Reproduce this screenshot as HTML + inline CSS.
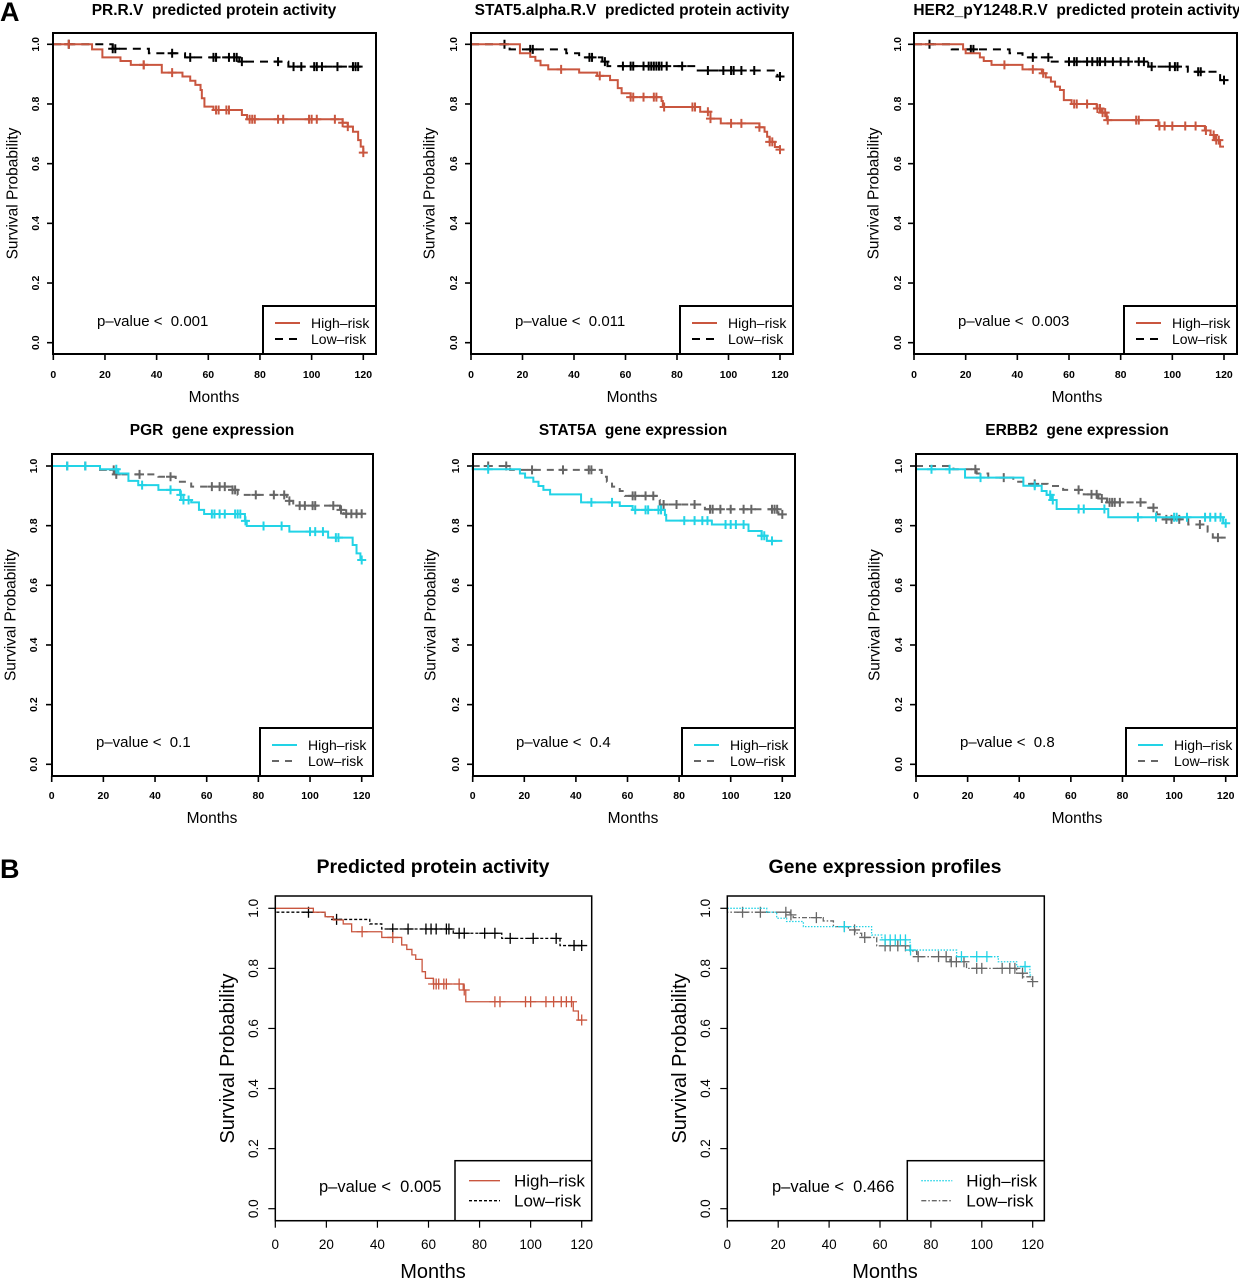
<!DOCTYPE html>
<html><head><meta charset="utf-8">
<style>
html,body{margin:0;padding:0;background:#fff;}
svg{display:block;font-family:"Liberation Sans",Arial,sans-serif;}
svg text{white-space:pre;}
</style></head>
<body>
<svg id="fig" width="1239" height="1280" viewBox="0 0 1239 1280" xmlns="http://www.w3.org/2000/svg">
<text x="0" y="21" font-size="27" font-weight="bold">A</text>
<text x="0" y="878" font-size="27" font-weight="bold">B</text>
</svg>
<script>
// ---- data (months / survival probability) ----
const xTicks = [0,20,40,60,80,100,120];
const yTicks = [0,0.2,0.4,0.6,0.8,1.0];
const yTickLabels = ["0.0","0.2","0.4","0.6","0.8","1.0"];

const prHiT=[15,19,26,30,42,50,53,55,57,57.5,58.5,62,73,75,112,114,116,118,119,120];
const prHiS=[0.983,0.956,0.944,0.931,0.905,0.892,0.878,0.864,0.847,0.819,0.791,0.78,0.763,0.749,0.737,0.724,0.707,0.679,0.657,0.637];
const prHiC=[6,35,35,46,63,64,67,68,76,77,78,87,89,99,100,102,109,112,114,120];
const prLoT=[23,37,51,72,91];
const prLoS=[0.985,0.97,0.956,0.942,0.925];
const prLoC=[6,23,24,46,53,62,63,68,70,71,73,87,93,96,101,102,104,110,116,117,118];

const stHiT=[19,23,25,27,30,42,49,54,57,58.5,62,74,74.5,89,93,97,112,114,115,116,118,120];
const stHiS=[0.97,0.958,0.945,0.93,0.916,0.905,0.894,0.88,0.853,0.836,0.823,0.81,0.79,0.774,0.751,0.735,0.722,0.707,0.69,0.673,0.656,0.647];
const stHiC=[35,50,62,63,67,71,72,75,86,87,92,93,101,105,112,116,117,120];
const stLoT=[15,37,42,51,53,87.5,119];
const stLoS=[0.983,0.97,0.956,0.942,0.927,0.912,0.892];
const stLoC=[13,23,24,46,47,52,59,62,63,67,69,70,71,72,73,74,76,82,92,98,101,102,105,110,120];

const heHiT=[19,20,25.5,27,30,42,49.5,51,53,54.6,56.5,58,61,70.7,72.5,74.6,94.6,112.6,114.8,116.5,118.5];
const heHiS=[0.983,0.97,0.956,0.944,0.931,0.916,0.903,0.889,0.875,0.858,0.847,0.813,0.8,0.785,0.771,0.746,0.726,0.711,0.696,0.679,0.657];
const heHiC=[35,46,50,62,63,67,71,72,73,74,75,86,87,95,97,100,105,109,113,116,117,118];
const heLoT=[14.6,37,42,52.6,90.7,106,118.5];
const heLoS=[0.983,0.97,0.956,0.942,0.925,0.908,0.88];
const heLoC=[6,22,23,46,52,60,62,63,67,69,71,72,74,77,80,83,87,89,92,99,101,102,110,111,120];

const pgHiT=[18.7,25.8,29.7,33.5,41.3,49.7,51,54,57,59,74.8,75.5,92,107,116.5,118,119.5];
const pgHiS=[0.989,0.975,0.95,0.936,0.92,0.903,0.886,0.878,0.853,0.839,0.816,0.799,0.78,0.76,0.735,0.707,0.685];
const pgHiC=[6,13,25,35,46,50,51,53,62,63,65,67,71,72,73,75,82,89,100,102,105,110,111,120];
const pgLoT=[18.7,24.5,41.3,48,54,70,72,91,93.5,111.6,113];
const pgLoS=[0.987,0.972,0.964,0.947,0.931,0.92,0.903,0.883,0.867,0.853,0.84];
const pgLoC=[6,13,24,25,34,46,62,65,67,70,71,79,86,90,92,96,98,101,102,109,112,114,116,118,120];

const s5HiT=[0,18.3,20.3,23.5,25.5,27.4,30,42,57,62,74.5,75,92.7,106.9,112,114];
const s5HiS=[0.989,0.975,0.961,0.947,0.933,0.92,0.905,0.878,0.866,0.853,0.836,0.817,0.804,0.782,0.766,0.749];
const s5HiC=[6,46,54,63,67,68,72,73,82,86,89,91,98,100,102,105,112,113,116];
const s5LoT=[14.5,50,52,54,57,59,71.3,72.5,90,118.5];
const s5LoS=[0.987,0.964,0.947,0.931,0.916,0.9,0.886,0.871,0.855,0.838];
const s5LoC=[6,13,23,35,45,46,62,63,67,70,74,79,86,92,93,96,100,105,108,116,117,118,120];

const erHiT=[0,19,41.6,48.7,50.6,52.6,54.5,74.5,119];
const erHiS=[0.989,0.961,0.934,0.916,0.903,0.886,0.856,0.828,0.808];
const erHiC=[6,13,25,46,52,53,63,65,73,86,93,100,101,105,112,114,116,118,120];
const erLoT=[14.5,23.5,28,37.7,42.9,51,57,65,70.7,74,89.4,93.3,95,105.5,113,115];
const erLoS=[0.989,0.975,0.961,0.947,0.94,0.933,0.92,0.905,0.891,0.878,0.86,0.838,0.821,0.804,0.78,0.76];
const erLoC=[23,34,46,63,68,70,72,75,76,77,79,87,92,97,99,102,110,117];

const b1HiT=[14.9,19.5,22.7,26.6,29.9,41.7,49.5,51.5,53.5,55,57.5,58.8,61.9,73.6,74.6,116.7,118.7];
const b1HiS=[0.987,0.972,0.961,0.948,0.922,0.903,0.878,0.863,0.845,0.83,0.789,0.767,0.748,0.728,0.689,0.658,0.628];
const b1HiC=[34,46,62,63,64,66,67,72,74,86,88,98,100,106,109,112,114,116,120];
const b1LoT=[0,19.5,22.7,37,41.7,69.7,88.7,111.5];
const b1LoS=[0.987,0.972,0.963,0.948,0.931,0.917,0.9,0.876];
const b1LoC=[13,24,46,52,59,61,63,67,68,72,74,82,86,92,101,110,117,120];

const b2HiT=[15.5,19.4,23.3,29.9,56.7,60.7,71.8,90.1,106.5,113.7,118.9];
const b2HiS=[0.987,0.967,0.956,0.939,0.911,0.895,0.861,0.839,0.822,0.806,0.778];
const b2HiC=[46,62,64,66,68,70,72,92,98,102,117];
const b2LoT=[0,24.6,25.9,37.7,41.7,47.6,50.2,52.8,58.7,71.8,74.4,87.5,94,113.7,116.3,119.5];
const b2LoS=[0.987,0.978,0.969,0.958,0.939,0.928,0.917,0.903,0.875,0.858,0.839,0.822,0.8,0.784,0.772,0.756];
const b2LoC=[6,13,23,25,35,46,50,54,62,64,67,70,75,83,86,88,90,93,98,100,108,111,113,116,120];

const pValues=["0.001","0.011","0.003","0.1","0.4","0.8","0.005","0.466"];

// ---- drawing ----
const NS="http://www.w3.org/2000/svg";
const svg=document.getElementById('fig');
function mk(tag,attrs,parent){const e=document.createElementNS(NS,tag);for(const k in attrs)e.setAttribute(k,attrs[k]);(parent||svg).appendChild(e);return e;}

const RED="#c9563f", CYAN="#22d3e6", GRAY="#666666", BLACK="#000000";
const rowStyle={tick:10.5,lab:15.5,title:15.5,p:15,leg:14,fw:2,lw:2,cs:4.5,tl:6};
const bStyle={tick:13.5,lab:20,title:19.5,p:16.5,leg:17,fw:1.5,lw:1.3,cs:5.5,tl:7};

const panels=[
 {name:'pr-protein',title:'PR.R.V  predicted protein activity',fl:53,fr:376,ft:33,fb:354,x0:53.3,x120:363.3,y1:44.3,y0:342.7,lx:263,ly:306,tx:214,ty:15,ylx:12,ytx:39,xty:378,mty:402,px:97,py:326,pi:0,st:rowStyle,
  hi:[prHiT,prHiS,prHiC],lo:[prLoT,prLoS,prLoC],hc:RED,lc:BLACK,hd:null,ld:"8,6"},
 {name:'stat5-protein',title:'STAT5.alpha.R.V  predicted protein activity',fl:471,fr:793,ft:33,fb:354,x0:471,x120:780,y1:44.3,y0:342.7,lx:680,ly:306,tx:632,ty:15,ylx:429,ytx:457,xty:378,mty:402,px:515,py:326,pi:1,st:rowStyle,
  hi:[stHiT,stHiS,stHiC],lo:[stLoT,stLoS,stLoC],hc:RED,lc:BLACK,hd:null,ld:"8,6"},
 {name:'her2-protein',title:'HER2_pY1248.R.V  predicted protein activity',fl:914,fr:1237,ft:33,fb:354,x0:914,x120:1224,y1:44.3,y0:342.7,lx:1124,ly:306,tx:1077,ty:15,ylx:873,ytx:901,xty:378,mty:402,px:958,py:326,pi:2,st:rowStyle,
  hi:[heHiT,heHiS,heHiC],lo:[heLoT,heLoS,heLoC],hc:RED,lc:BLACK,hd:null,ld:"8,6"},
 {name:'pgr-gene',title:'PGR  gene expression',fl:52,fr:373,ft:454,fb:776,x0:51.7,x120:361.7,y1:466,y0:764.3,lx:260,ly:728,tx:212,ty:435,ylx:10,ytx:37,xty:799,mty:823,px:96,py:747,pi:3,st:rowStyle,
  hi:[pgHiT,pgHiS,pgHiC],lo:[pgLoT,pgLoS,pgLoC],hc:CYAN,lc:GRAY,hd:null,ld:"7,6"},
 {name:'stat5a-gene',title:'STAT5A  gene expression',fl:473,fr:795,ft:454,fb:776,x0:472.7,x120:782.3,y1:466,y0:764.3,lx:682,ly:728,tx:633,ty:435,ylx:430,ytx:459,xty:799,mty:823,px:516,py:747,pi:4,st:rowStyle,
  hi:[s5HiT,s5HiS,s5HiC],lo:[s5LoT,s5LoS,s5LoC],hc:CYAN,lc:GRAY,hd:null,ld:"7,6"},
 {name:'erbb2-gene',title:'ERBB2  gene expression',fl:916,fr:1237,ft:454,fb:776,x0:916,x120:1225.7,y1:466,y0:764.3,lx:1126,ly:728,tx:1077,ty:435,ylx:874,ytx:902,xty:799,mty:823,px:960,py:747,pi:5,st:rowStyle,
  hi:[erHiT,erHiS,erHiC],lo:[erLoT,erLoS,erLoC],hc:CYAN,lc:GRAY,hd:null,ld:"7,6"},
 {name:'combined-protein',title:'Predicted protein activity',fl:275.3,fr:591.7,ft:896,fb:1220.7,x0:275.3,x120:581.7,y1:908.3,y0:1208.7,lx:455,ly:1160.7,tx:433,ty:873,ylx:227,ytx:258,xty:1249,mty:1278,px:319,py:1192,pi:6,st:bStyle,
  hi:[b1HiT,b1HiS,b1HiC],lo:[b1LoT,b1LoS,b1LoC],hc:RED,lc:BLACK,hd:null,ld:"3,2"},
 {name:'combined-gene',title:'Gene expression profiles',fl:727.3,fr:1044.3,ft:896,fb:1220.7,x0:727.3,x120:1032.7,y1:908.3,y0:1208.7,lx:907.3,ly:1160.7,tx:885,ty:873,ylx:679,ytx:710,xty:1249,mty:1278,px:772,py:1192,pi:7,st:bStyle,
  hi:[b2HiT,b2HiS,b2HiC],lo:[b2LoT,b2LoS,b2LoC],hc:CYAN,lc:GRAY,hd:"1.5,1.5",ld:"5,2,1.5,2"}
];

function survAt(T,S,t){let s=1;for(let i=0;i<T.length;i++){if(T[i]<=t)s=S[i];}return s;}

panels.forEach(p=>{
  const st=p.st;
  const g=mk('g',{});
  
  
  const X=t=>p.x0+(p.x120-p.x0)*t/120;
  const Y=s=>p.y0-(p.y0-p.y1)*s;

  const title=mk('text',{x:p.tx,y:p.ty,'font-size':st.title,'font-weight':'bold','text-anchor':'middle'},g);
  title.textContent=p.title;
  
  

  xTicks.forEach(v=>{
    mk('line',{x1:X(v),x2:X(v),y1:p.fb,y2:p.fb+st.tl,stroke:'#000','stroke-width':st.fw*0.8},g);
    const t=mk('text',{x:X(v),y:p.xty,'font-size':st.tick,'font-weight':st===rowStyle?'bold':'normal','text-anchor':'middle'},g);
    t.textContent=v;
    
    
  });
  mk('line',{x1:X(0),x2:X(120),y1:p.fb,y2:p.fb,stroke:'#000','stroke-width':st.fw},g);
  yTicks.forEach((v,i)=>{
    mk('line',{x1:p.fl,x2:p.fl-st.tl,y1:Y(v),y2:Y(v),stroke:'#000','stroke-width':st.fw*0.8},g);
    const t=mk('text',{x:0,y:0,'font-size':st.tick,'font-weight':st===rowStyle?'bold':'normal','text-anchor':'middle',transform:`translate(${p.ytx},${Y(v)}) rotate(-90)`},g);
    t.textContent=yTickLabels[i];
    
    
  });
  const mt=mk('text',{x:p.tx,y:p.mty,'font-size':st.lab,'text-anchor':'middle'},g);
  mt.textContent='Months';
  
  
  const yl=mk('text',{x:0,y:0,'font-size':st.lab,'text-anchor':'middle',transform:`translate(${p.ylx+st.lab*0.35},${(p.y0+p.y1)/2}) rotate(-90)`},g);
  yl.textContent='Survival Probability';
  
  

  function curve(ser,color,dash,nm){
    const [T,S,C]=ser;
    let d=`M${X(0)},${Y(1)}`;
    for(let i=0;i<T.length;i++){d+=` H${X(T[i])} V${Y(S[i])}`;}
    d+=` H${X(120)}`;
    const a={d:d,fill:'none',stroke:color,'stroke-width':st.lw};
    if(dash)a['stroke-dasharray']=dash;
    const path=mk('path',a,g);
    
    
    C.forEach(c=>{
      const s=survAt(T,S,c),cx=X(c),cy=Y(s);
      const m=mk('path',{d:`M${cx-st.cs},${cy} H${cx+st.cs} M${cx},${cy-st.cs} V${cy+st.cs}`,stroke:color,'stroke-width':st.lw,fill:'none'},g);
      
      
    });
  }
  curve(p.lo,p.lc,p.ld,'low-risk');
  curve(p.hi,p.hc,p.hd,'high-risk');

  const fr=mk('rect',{x:p.fl,y:p.ft,width:p.fr-p.fl,height:p.fb-p.ft,fill:'none',stroke:'#000','stroke-width':st.fw},g);
  
  

  const pv=mk('text',{x:p.px,y:p.py,'font-size':st.p},g);
  pv.textContent='p–value <  '+pValues[p.pi];
  
  

  const isB=st===bStyle;
  const lg=mk('g',{},g);
  
  
  mk('rect',{x:p.lx,y:p.ly,width:p.fr-p.lx,height:p.fb-p.ly,fill:'#fff',stroke:'#000','stroke-width':st.fw},lg);
  const r1=isB?20:17,r2=isB?40:33,l1=isB?14:12,l2=isB?45:37,tx=isB?59:48;
  [[p.hc,p.hd,'High–risk',r1],[p.lc,p.ld,'Low–risk',r2]].forEach(([c,da,lab,ry])=>{
    const a={x1:p.lx+l1,x2:p.lx+l2,y1:p.ly+ry,y2:p.ly+ry,stroke:c,'stroke-width':st.lw};
    if(da)a['stroke-dasharray']=da;
    mk('line',a,lg);
    const t=mk('text',{x:p.lx+tx,y:p.ly+ry+st.leg*0.35,'font-size':st.leg},lg);
    t.textContent=lab;
    
    
  });
});
</script>
</body></html>
